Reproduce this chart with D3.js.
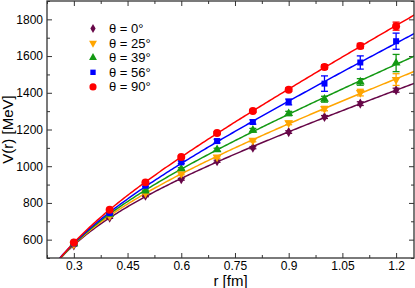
<!DOCTYPE html>
<html>
<head>
<meta charset="utf-8">
<script src="https://cdn.jsdelivr.net/npm/d3@7"></script>
<style>
  html, body { margin: 0; padding: 0; background: #fff; }
  svg { display: block; }
</style>
</head>
<body>
<div id="chart"></div>
<script>
// ---- data ----
const r = [0.3, 0.4, 0.5, 0.6, 0.7, 0.8, 0.9, 1.0, 1.1, 1.2];
const labels = ["θ = 0°", "θ = 25°", "θ = 39°", "θ = 56°", "θ = 90°"];
const colors = ["#670748", "#FFA500", "#139913", "#0000FF", "#FF0000"];
const symbols = ["diamond", "triangleDown", "triangle", "square", "circle"];

const v0  = [569, 720, 839, 929, 1027, 1101, 1186, 1268, 1341, 1414];
const v25 = [574, 730, 854, 959, 1050, 1141, 1236, 1314, 1401, 1472];
const v39 = [578, 738, 865, 986, 1090, 1196, 1287, 1365, 1459, 1562];
const v56 = [580, 745, 894, 1021, 1137, 1241, 1350, 1450, 1565, 1681];
const v90 = [584, 763, 912, 1050, 1181, 1301, 1417, 1541, 1655, 1763];

const e0  = [4, 4, 5, 5, 6, 6, 7, 8, 10, 11];
const e25 = [4, 4, 5, 6, 7, 8, 10, 12, 18, 32];
const e39 = [4, 4, 5, 6, 8, 10, 12, 16, 18, 47];
const e56 = [4, 5, 6, 7, 10, 12, 16, 42, 36, 44];
const e90 = [4, 5, 6, 6, 7, 8, 10, 12, 14, 22];

const xTicks = [0.3, 0.45, 0.6, 0.75, 0.9, 1.05, 1.2];
const yTicks = [600, 800, 1000, 1200, 1400, 1600, 1800];

const values = [v0, v25, v39, v56, v90];
const errors = [e0, e25, e39, e56, e90];

// ---- layout ----
const W = 415, H = 288;
const m = { left: 47, right: 1, top: 1, bottom: 30 };
const pw = W - m.left - m.right, ph = H - m.top - m.bottom;
const FONT = "'Liberation Sans', Arial, sans-serif";

const x = d3.scaleLinear().domain([0.225, 1.25]).range([0, pw]);
const y = d3.scaleLinear().domain([500, 1900]).range([ph, 0]);

const svg = d3.select("#chart").append("svg").attr("width", W).attr("height", H);
const g = svg.append("g").attr("transform", `translate(${m.left},${m.top})`);

svg.append("defs").append("clipPath").attr("id", "clip")
  .append("rect").attr("width", pw).attr("height", ph);

// ---- least-squares Cornell fit V = A + B/r + s*r ----
function fit(rs, vs) {
  const f = rr => [1, 1 / rr, rr];
  const M = [[0,0,0],[0,0,0],[0,0,0]], b = [0,0,0];
  rs.forEach((rr, i) => {
    const p = f(rr);
    for (let a = 0; a < 3; a++) {
      b[a] += p[a] * vs[i];
      for (let c = 0; c < 3; c++) M[a][c] += p[a] * p[c];
    }
  });
  for (let i = 0; i < 3; i++) {
    for (let k = i + 1; k < 3; k++) {
      const t = M[k][i] / M[i][i];
      for (let c = i; c < 3; c++) M[k][c] -= t * M[i][c];
      b[k] -= t * b[i];
    }
  }
  const s = [0,0,0];
  for (let i = 2; i >= 0; i--) {
    let acc = b[i];
    for (let c = i + 1; c < 3; c++) acc -= M[i][c] * s[c];
    s[i] = acc / M[i][i];
  }
  return rr => s[0] + s[1] / rr + s[2] * rr;
}

// ---- axes / ticks (inward, all four sides) ----
const axisColor = "#333";
function styleAxis(sel) {
  sel.attr("font-family", FONT);
  sel.select(".domain").remove();
  sel.selectAll("line").attr("stroke", axisColor).attr("stroke-width", 1);
  sel.selectAll("text").attr("fill", "#000").attr("font-size", 12);
}
const xMinor = d3.range(0.225, 1.2501, 0.075).filter(t => !xTicks.some(v => Math.abs(v - t) < 1e-6));
const yMinor = d3.range(500, 1901, 100).filter(t => !yTicks.includes(t));

// bottom
g.append("g").attr("transform", `translate(0,${ph})`)
  .call(d3.axisBottom(x).tickValues(xTicks).tickFormat(d3.format("")).tickSizeInner(-5).tickSizeOuter(0).tickPadding(3))
  .call(styleAxis);
g.append("g").attr("transform", `translate(0,${ph})`)
  .call(d3.axisBottom(x).tickValues(xMinor).tickFormat("").tickSizeInner(-3).tickSizeOuter(0))
  .call(styleAxis);
// top
g.append("g")
  .call(d3.axisTop(x).tickValues(xTicks).tickFormat("").tickSizeInner(-5).tickSizeOuter(0))
  .call(styleAxis);
g.append("g")
  .call(d3.axisTop(x).tickValues(xMinor).tickFormat("").tickSizeInner(-3).tickSizeOuter(0))
  .call(styleAxis);
// left
g.append("g")
  .call(d3.axisLeft(y).tickValues(yTicks).tickFormat(d3.format("d")).tickSizeInner(-5).tickSizeOuter(0).tickPadding(4))
  .call(styleAxis);
g.append("g")
  .call(d3.axisLeft(y).tickValues(yMinor).tickFormat("").tickSizeInner(-3).tickSizeOuter(0))
  .call(styleAxis);
// right
g.append("g").attr("transform", `translate(${pw},0)`)
  .call(d3.axisRight(y).tickValues(yTicks).tickFormat("").tickSizeInner(-5).tickSizeOuter(0))
  .call(styleAxis);
g.append("g").attr("transform", `translate(${pw},0)`)
  .call(d3.axisRight(y).tickValues(yMinor).tickFormat("").tickSizeInner(-3).tickSizeOuter(0))
  .call(styleAxis);

// ---- fitted curves ----
const rFine = d3.range(0.2, 1.2601, 0.005);
values.forEach((vs, si) => {
  const fn = fit(r, vs);
  g.append("path")
    .attr("clip-path", "url(#clip)")
    .attr("fill", "none")
    .attr("stroke", colors[si])
    .attr("stroke-width", 1.5)
    .attr("d", d3.line().x(d => x(d)).y(d => y(fn(d)))(rFine));
});

// ---- symbols ----
const symMap = {
  diamond: d3.symbolDiamond, triangle: d3.symbolTriangle, square: d3.symbolSquare,
  circle: d3.symbolCircle, triangleDown: d3.symbolTriangle
};
const symSize = { diamond: 30, triangle: 34, triangleDown: 34, square: 36, circle: 50 };
function symbolPath(name, scale) {
  return d3.symbol().type(symMap[name]).size(symSize[name] * (scale || 1))();
}
function symbolTransform(name, px, py) {
  return `translate(${px},${py})` + (name === "triangleDown" ? " rotate(180)" : "");
}

// ---- error bars and points ----
values.forEach((vs, si) => {
  const es = errors[si];
  const grp = g.append("g");
  vs.forEach((v, i) => {
    const px = x(r[i]);
    const y1 = y(v - es[i]), y2 = y(v + es[i]);
    grp.append("line").attr("x1", px).attr("x2", px).attr("y1", y1).attr("y2", y2)
      .attr("stroke", colors[si]).attr("stroke-width", 1.3);
    [y1, y2].forEach(yy => grp.append("line")
      .attr("x1", px - 3.5).attr("x2", px + 3.5).attr("y1", yy).attr("y2", yy)
      .attr("stroke", colors[si]).attr("stroke-width", 1.3));
    grp.append("path").attr("d", symbolPath(symbols[si]))
      .attr("transform", symbolTransform(symbols[si], px, y(v)))
      .attr("fill", colors[si]);
  });
});

// ---- frame ----
g.append("rect").attr("width", pw).attr("height", ph)
  .attr("fill", "none").attr("stroke", axisColor).attr("stroke-width", 1.3);

// ---- legend ----
const leg = g.append("g").attr("transform", "translate(46,27.5)");
labels.forEach((lab, i) => {
  const ly = i * 14.6;
  leg.append("path").attr("d", symbolPath(symbols[i], 0.8))
    .attr("transform", symbolTransform(symbols[i], 0, ly))
    .attr("fill", colors[i]);
  leg.append("text").attr("x", 16).attr("y", ly).attr("dy", "0.35em")
    .attr("font-size", 13).attr("fill", "#000").attr("font-family", FONT).text(lab);
});

// ---- axis titles ----
svg.append("text").attr("x", m.left + pw / 2).attr("y", 286)
  .attr("text-anchor", "middle").attr("font-size", 15).attr("font-family", FONT).text("r [fm]");
svg.append("text").attr("transform", `translate(13,${m.top + ph / 2}) rotate(-90)`)
  .attr("text-anchor", "middle").attr("font-size", 15).attr("font-family", FONT).text("V(r) [MeV]");
</script>
</body>
</html>
